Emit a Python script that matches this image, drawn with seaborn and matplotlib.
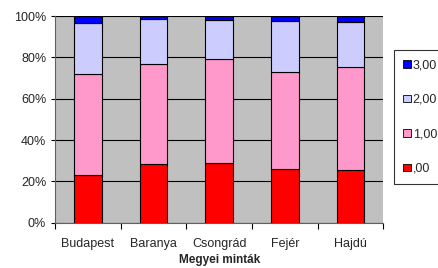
import numpy as np
import pandas as pd
import matplotlib
matplotlib.use("Agg")
import matplotlib.pyplot as plt
from matplotlib.patches import Patch
from matplotlib.ticker import FixedLocator, PercentFormatter
import seaborn as sns

categories = ["Budapest", "Baranya", "Csongrád", "Fejér", "Hajdú"]
series_names = [",00", "1,00", "2,00", "3,00"]
v00 = [23.1, 28.4, 28.9, 25.8, 25.3]
v10 = [48.8, 48.4, 50.1, 47.1, 50.0]
v20 = [24.7, 21.6, 18.9, 24.7, 21.7]
v30 = [3.4, 1.6, 2.1, 2.4, 3.0]
colors = ["#FF0000", "#FF99CC", "#CCCCFF", "#0000FF"]
ytick_vals = [0, 20, 40, 60, 80, 100]
xlabel = "Megyei minták"

sns.set_style("white")
plt.rcParams["font.family"] = ["Liberation Sans", "DejaVu Sans"]

fig = plt.figure(figsize=(4.38, 2.68), dpi=100)
ax = fig.add_axes([0.126, 0.169, 0.749, 0.771])
ax.set_facecolor("#C0C0C0")

series = [v00, v10, v20, v30]
totals = np.sum(series, axis=0)
bottom = np.zeros(len(categories))
for vals, col in zip(series, colors):
    pct = np.array(vals) / totals * 100
    df = pd.DataFrame({"cat": categories, "val": pct})
    sns.barplot(data=df, x="cat", y="val", bottom=bottom, color=col,
                edgecolor="black", linewidth=0.8, width=0.42, ax=ax,
                saturation=1, zorder=3)
    bottom = bottom + pct

ax.set_ylim(0, 100)
ax.set_xlim(-0.5, len(categories) - 0.5)
ax.yaxis.set_major_locator(FixedLocator(ytick_vals))
ax.yaxis.set_major_formatter(PercentFormatter(decimals=0))
ax.grid(axis="y", color="black", linewidth=0.8, zorder=1)
ax.set_axisbelow(True)
for s in ["top", "right"]:
    ax.spines[s].set_visible(False)
ax.spines["left"].set_color("#606060")
ax.spines["bottom"].set_color("#606060")
ax.tick_params(axis="y", direction="out", length=3, labelsize=9, left=True, color="black")
ax.set_xticks(np.arange(len(categories)))
ax.set_xticklabels(categories)
ax.tick_params(axis="x", which="major", length=0, labelsize=9, pad=11)
ax.set_xticks(np.arange(-0.5, len(categories)), minor=True)
ax.tick_params(axis="x", which="minor", direction="out", length=4, width=0.8,
               bottom=True, color="black")
ax.set_ylabel("")
ax.set_xlabel(xlabel, fontsize=8.5, fontweight="bold", labelpad=3)

handles = [Patch(facecolor=c, edgecolor="black", linewidth=0.6) for c in colors]
leg = fig.legend(handles[::-1], series_names[::-1], loc="upper left",
                 bbox_to_anchor=(394 / 438, 1 - 50 / 268), fontsize=9,
                 frameon=True, fancybox=False, handlelength=0.6, handleheight=0.6,
                 handletextpad=0.15, labelspacing=1.8, borderpad=0.75,
                 borderaxespad=0)
leg.get_frame().set_edgecolor("black")
leg.get_frame().set_linewidth(0.8)

fig.savefig("out.png", dpi=100)
